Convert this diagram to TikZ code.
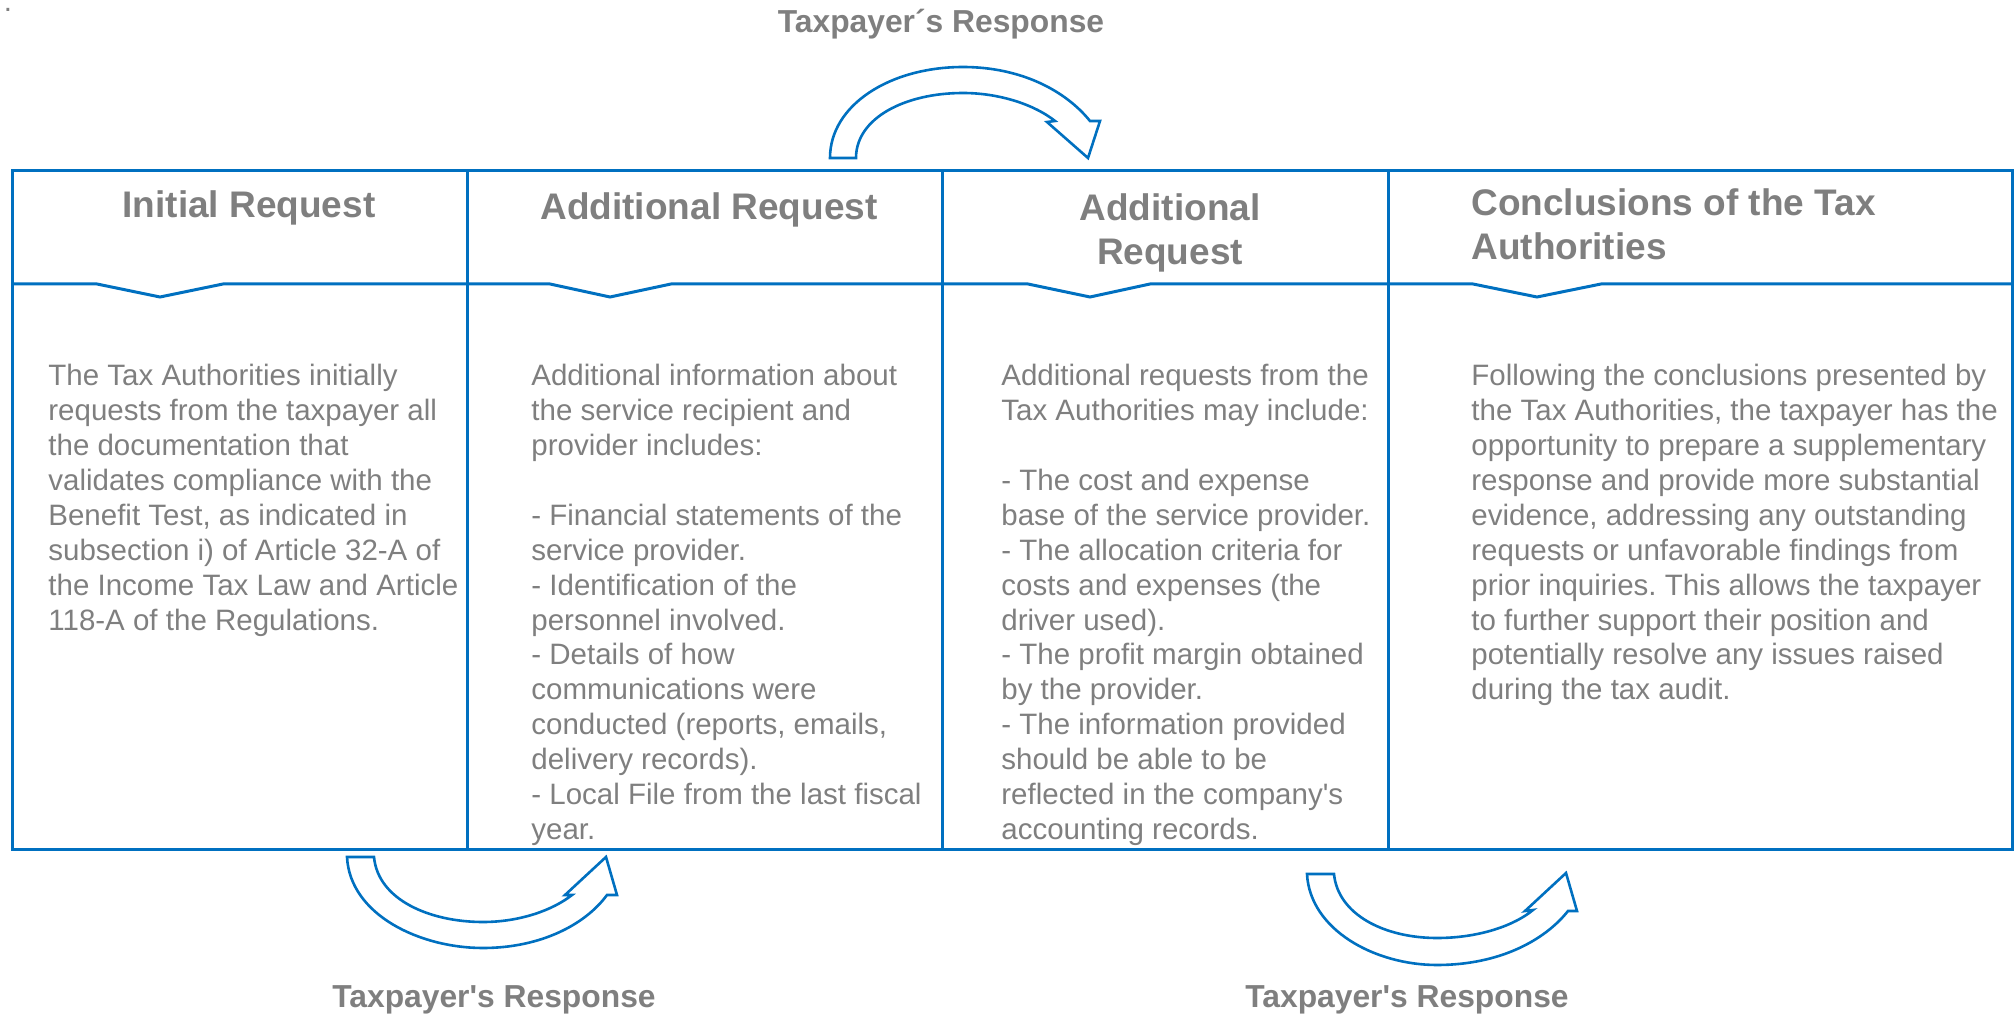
\documentclass[tikz,border=0pt]{standalone}
\usepackage{fontspec}
\setmainfont{Liberation Sans}[Ligatures=TeXOff]
\usepackage{tikz}

\definecolor{taxblue}{RGB}{0,112,192}
\definecolor{txtgray}{RGB}{127,127,127}
\frenchspacing

\begin{document}
\begin{tikzpicture}[x=0.5pt, y=-0.5pt,
    frame/.style={draw=taxblue, line width=1.5pt},
    head/.style={text=txtgray, font=\bfseries\fontsize{18.5}{22}\selectfont, inner sep=0pt},
    body/.style={text=txtgray, font=\fontsize{14.75}{17.45}\selectfont, align=left, anchor=north west, inner sep=0pt},
    reply/.style={text=txtgray, font=\bfseries\fontsize{15.9}{19}\selectfont, inner sep=0pt, anchor=base},
    bend arrow/.style={draw=taxblue, line width=1.3pt, fill=white, line join=miter}]
    \useasboundingbox (0,0) rectangle (2015,1016);

    \node [coordinate] (nw) at (12,171) {};
    \node [coordinate] (se) at (2012,849) {};

    % table frame and column rules
    \draw [frame] (nw) rectangle (se);
    \foreach \x in {467,942,1388}
        \draw [frame] (\x,171) -- (\x,849);

    % header rule with the small notches
    \draw [frame] (12,284) -- (97,284) -- (160,297) -- (223,284)
        -- (550,284) -- (610,297) -- (671,284)
        -- (1028,284) -- (1090,297) -- (1150,284)
        -- (1473,284) -- (1537,297) -- (1601,284) -- (2012,284);

    \node [text=txtgray, font=\fontsize{14.75}{17}\selectfont, inner sep=0pt, anchor=base] (dot) at (8,12) {.};

    % headings
    \node [head, anchor=base] (initial head) at (249,218) {Initial Request};
    \node [head, anchor=base] (additional head) at (709,220) {Additional Request};
    \node [head, anchor=north, align=center] (second head) at (1170,193) {Additional\\Request};
    \node [head, anchor=north west, align=left] (conclusion head) at (1471,188) {Conclusions of the Tax\\Authorities};

    % column texts
    \node [body] (initial text) at (48,364) {The Tax Authorities initially\\
        requests from the taxpayer all\\
        the documentation that\\
        validates compliance with the\\
        Benefit Test, as indicated in\\
        subsection i) of Article 32-A of\\
        the Income Tax Law and Article\\
        118-A of the Regulations.};

    \node [body] (additional text) at (531,364) {Additional information about\\
        the service recipient and\\
        provider includes:\\
        ~\\
        - Financial statements of the\\
        service provider.\\
        - Identification of the\\
        personnel involved.\\
        - Details of how\\
        communications were\\
        conducted (reports, emails,\\
        delivery records).\\
        - Local File from the last fiscal\\
        year.};

    \node [body] (second text) at (1001,364) {Additional requests from the\\
        Tax Authorities may include:\\
        ~\\
        - The cost and expense\\
        base of the service provider.\\
        - The allocation criteria for\\
        costs and expenses (the\\
        driver used).\\
        - The profit margin obtained\\
        by the provider.\\
        - The information provided\\
        should be able to be\\
        reflected in the company's\\
        accounting records.};

    \node [body] (conclusion text) at (1471,364) {Following the conclusions presented by\\
        the Tax Authorities, the taxpayer has the\\
        opportunity to prepare a supplementary\\
        response and provide more substantial\\
        evidence, addressing any outstanding\\
        requests or unfavorable findings from\\
        prior inquiries. This allows the taxpayer\\
        to further support their position and\\
        potentially resolve any issues raised\\
        during the tax audit.};

    % curved response arrows
    \draw [bend arrow] (830,158) .. controls (830,105) and (890,67) .. (963,67)
        .. controls (1020,67) and (1065,90) .. (1090,121)
        -- (1100,121) -- (1088,158) -- (1047,122) -- (1055,121)
        .. controls (1035,105) and (1000,93) .. (963,93)
        .. controls (905,93) and (856,118) .. (856,158) -- cycle;

    \draw [bend arrow] (347,857) .. controls (350,915) and (420,948) .. (483,948)
        .. controls (540,948) and (585,925) .. (607,895)
        -- (617,895) -- (606,857) -- (565,895) -- (572,895)
        .. controls (553,910) and (520,922) .. (483,922)
        .. controls (430,922) and (378,900) .. (374,857) -- cycle;

    \draw [bend arrow] (1307,874) .. controls (1310,930) and (1375,965) .. (1437,965)
        .. controls (1500,965) and (1545,940) .. (1568,911)
        -- (1577,911) -- (1566,873) -- (1525,911) -- (1533,910)
        .. controls (1515,925) and (1480,938) .. (1437,938)
        .. controls (1385,938) and (1338,915) .. (1334,874) -- cycle;

    \node [reply] (top reply) at (941,33) {Taxpayer´s Response};
    \node [reply] (left reply) at (494,1007) {Taxpayer's Response};
    \node [reply] (right reply) at (1407,1007) {Taxpayer's Response};
\end{tikzpicture}
\end{document}
